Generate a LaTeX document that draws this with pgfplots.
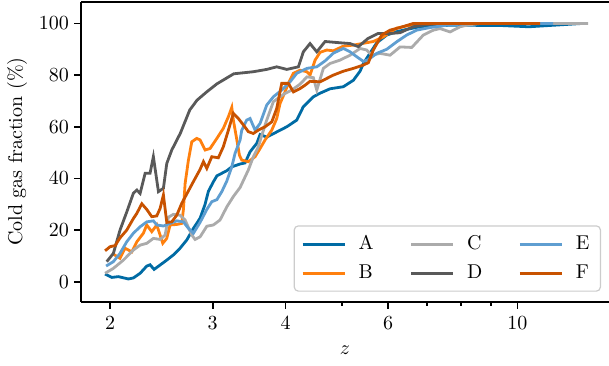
\documentclass[border=0pt]{standalone}
\usepackage{pgfplots}
\pgfplotsset{compat=1.18}
\definecolor{cA}{HTML}{006BA4}
\definecolor{cB}{HTML}{FF800E}
\definecolor{cC}{HTML}{ABABAB}
\definecolor{cD}{HTML}{595959}
\definecolor{cE}{HTML}{5F9ED1}
\definecolor{cF}{HTML}{C85200}
\begin{document}
\begin{tikzpicture}
\begin{axis}[
  scale only axis, width=264pt, height=150pt,
  xmode=log, xmin=1.783, xmax=14.36, ymin=-7.7, ymax=108.4,
  axis x line*=box, axis y line*=left,
  axis line style={-, line width=0.8pt},
  every outer y axis line/.append style={-},
  tick align=outside, xtick pos=bottom, ytick pos=left,
  major tick length=3.5pt, minor tick length=2pt,
  every tick/.style={black, line width=0.8pt},
  xtick={2,3,4,6,10}, xticklabels={2,3,4,6,10},
  minor xtick={5,7,8,9},
  ytick={0,20,40,60,80,100},
  yticklabel style={xshift=1pt},
  every axis y label/.style={at={(axis description cs:-0.121,0.5)}, rotate=90, anchor=center},
  every axis x label/.style={at={(axis description cs:0.5,-0.161)}, anchor=center},
  ylabel={Cold gas fraction (\%)}, xlabel={$z$},
  legend columns=3, legend cell align=left,
  legend image code/.code={\draw[#1] (0pt,0pt) -- (21pt,0pt);},
  legend style={at={(1,0)}, anchor=south east, xshift=-4pt, yshift=5pt,
    draw=black!20, line width=0.6pt, rounded corners=2pt, fill=white, fill opacity=0.8, text opacity=1,
    inner xsep=3.5pt, inner ysep=2.8pt, row sep=2pt,
    /tikz/every odd column/.append style={column sep=4.3pt},
    /tikz/every even column/.append style={column sep=16pt}},
  every axis plot/.append style={line width=1.4pt},
]
\addplot[cA, forget plot] coordinates {(1.961,3.0)(2.013,1.7)(2.067,2.0)(2.150,1.1)(2.193,1.5)(2.252,3.3)(2.312,6.1)(2.342,6.6)(2.380,4.8)(2.437,6.5)(2.502,8.4)(2.568,10.4)(2.637,13.0)(2.708,16.2)(2.780,20.7)(2.854,24.6)(2.911,30.0)(2.949,35.0)(3.008,38.7)(3.050,41.0)(3.110,42.0)(3.172,43.0)(3.235,44.5)(3.343,45.6)(3.409,46.0)(3.477,50.3)(3.571,53.6)(3.618,57.0)(3.714,56.0)(3.864,58.0)(4.020,60.0)(4.182,62.6)(4.290,67.7)(4.465,71.6)(4.585,73.0)(4.770,74.7)(5.027,75.5)(5.230,78.0)(5.370,81.5)(5.441,84.5)(5.549,87.5)(5.736,92.5)(5.968,95.5)(6.208,96.8)(6.458,97.7)(6.807,98.7)(7.664,99.3)(9.338,99.2)(10.46,98.7)(12.96,100)};
\addplot[cB, forget plot] coordinates {(2.026,10.7)(2.080,9.1)(2.122,13.0)(2.179,11.6)(2.223,15.5)(2.281,18.8)(2.312,22.0)(2.358,19.4)(2.405,22.0)(2.463,14.9)(2.502,16.8)(2.535,22.0)(2.603,22.2)(2.655,22.6)(2.672,28.0)(2.690,38.0)(2.725,47.0)(2.762,54.2)(2.817,55.5)(2.854,54.9)(2.911,51.0)(2.969,51.6)(3.050,55.5)(3.129,59.4)(3.192,63.9)(3.235,67.5)(3.255,62.6)(3.300,55.0)(3.334,49.0)(3.365,47.1)(3.454,46.5)(3.547,48.4)(3.618,51.6)(3.690,54.9)(3.789,58.7)(3.864,63.2)(3.915,69.0)(3.993,73.5)(4.045,76.8)(4.126,80.7)(4.237,81.9)(4.353,81.3)(4.407,80.0)(4.496,85.8)(4.585,88.8)(4.708,89.7)(4.833,89.4)(5.027,91.2)(5.230,91.6)(5.441,92.3)(5.659,93.0)(5.888,94.8)(6.046,96.5)(6.208,98.2)(6.543,99.3)(7.08,100)(10.94,100)};
\addplot[cC, forget plot] coordinates {(1.961,3.3)(2.026,5.2)(2.108,8.4)(2.193,12.3)(2.252,14.2)(2.312,14.9)(2.373,16.8)(2.437,16.4)(2.486,18.1)(2.518,25.0)(2.568,26.1)(2.637,25.8)(2.690,23.9)(2.762,18.1)(2.798,16.4)(2.854,17.4)(2.931,21.5)(3.008,22.0)(3.088,23.9)(3.172,29.0)(3.255,33.0)(3.343,36.5)(3.454,43.3)(3.523,48.4)(3.593,52.3)(3.634,56.0)(3.714,62.6)(3.813,69.7)(3.915,71.6)(3.993,72.9)(4.100,74.2)(4.237,76.5)(4.353,79.3)(4.465,79.0)(4.526,74.2)(4.645,82.6)(4.770,84.5)(4.962,85.8)(5.162,87.7)(5.370,90.3)(5.514,89.7)(5.624,87.7)(5.812,88.4)(6.046,87.7)(6.290,90.9)(6.587,90.7)(6.896,95.5)(7.175,97.4)(7.367,98.0)(7.664,96.7)(7.973,98.7)(8.185,99.3)(8.629,100)(13.22,100)};
\addplot[cD, forget plot] coordinates {(1.974,7.8)(2.026,11.0)(2.080,20.0)(2.136,27.0)(2.193,34.3)(2.223,35.5)(2.252,34.2)(2.297,42.0)(2.342,42.0)(2.373,48.4)(2.421,34.9)(2.469,36.2)(2.502,45.8)(2.552,51.0)(2.640,57.5)(2.740,66.5)(2.820,70.3)(2.930,73.5)(3.050,76.6)(3.260,80.5)(3.523,81.3)(3.714,82.2)(3.864,83.2)(4.020,82.2)(4.209,83.2)(4.292,89.0)(4.407,92.2)(4.526,89.0)(4.677,93.0)(4.962,92.5)(5.162,92.2)(5.334,91.0)(5.543,94.2)(5.766,96.1)(6.046,96.1)(6.290,96.4)(6.621,98.7)(7.0,99.6)(7.7,100)(10.94,100)};
\addplot[cE, forget plot] coordinates {(1.969,6.1)(2.026,7.8)(2.080,11.0)(2.136,15.5)(2.193,18.8)(2.252,21.3)(2.312,23.2)(2.373,23.6)(2.405,22.0)(2.469,21.6)(2.535,22.6)(2.603,23.6)(2.672,23.2)(2.725,20.7)(2.780,18.8)(2.854,23.0)(2.931,28.0)(2.989,31.0)(3.050,31.8)(3.110,34.9)(3.172,39.0)(3.235,44.5)(3.277,49.7)(3.343,54.9)(3.365,58.7)(3.432,62.6)(3.477,63.2)(3.547,58.7)(3.618,61.3)(3.714,68.4)(3.813,71.6)(3.941,74.2)(4.073,77.4)(4.182,80.7)(4.353,82.6)(4.526,83.2)(4.677,85.5)(4.833,88.5)(5.027,90.3)(5.162,89.0)(5.300,87.1)(5.441,85.3)(5.549,86.0)(5.736,88.4)(5.968,90.0)(6.208,92.9)(6.458,95.5)(6.718,97.4)(7.081,98.4)(7.563,99.3)(8.3,100)(11.51,100)};
\addplot[cF, forget plot] coordinates {(1.961,12.0)(2.000,13.6)(2.040,14.0)(2.080,17.0)(2.136,20.0)(2.193,24.5)(2.223,26.5)(2.267,30.2)(2.312,28.0)(2.358,25.2)(2.405,25.5)(2.437,28.4)(2.469,33.6)(2.502,23.0)(2.552,23.2)(2.603,25.8)(2.655,30.4)(2.708,34.0)(2.780,38.8)(2.854,43.5)(2.892,46.5)(2.931,43.9)(2.989,48.4)(3.068,48.0)(3.129,52.3)(3.192,58.7)(3.255,65.2)(3.320,63.2)(3.387,60.7)(3.454,58.1)(3.523,57.4)(3.593,58.7)(3.690,60.0)(3.789,61.9)(3.864,67.1)(3.941,76.8)(4.045,76.8)(4.126,73.5)(4.237,74.8)(4.322,76.1)(4.407,77.6)(4.585,77.4)(4.833,80.0)(5.027,81.5)(5.230,82.6)(5.441,83.9)(5.549,84.8)(5.659,89.7)(5.851,95.5)(6.046,97.4)(6.290,98.4)(6.629,100)(10.94,100)};
\addlegendimage{cA, line width=1.4pt}\addlegendentry{A}
\addlegendimage{cC, line width=1.4pt}\addlegendentry{C}
\addlegendimage{cE, line width=1.4pt}\addlegendentry{E}
\addlegendimage{cB, line width=1.4pt}\addlegendentry{B}
\addlegendimage{cD, line width=1.4pt}\addlegendentry{D}
\addlegendimage{cF, line width=1.4pt}\addlegendentry{F}
\path (rel axis cs:0,0) coordinate (ll) (rel axis cs:1,1) coordinate (ur);
\end{axis}
\pgfresetboundingbox
\path[use as bounding box] ([shift={(-40.5pt,-31.65pt)}]ll) rectangle ([shift={(0pt,0.85pt)}]ur);
\end{tikzpicture}
\end{document}
